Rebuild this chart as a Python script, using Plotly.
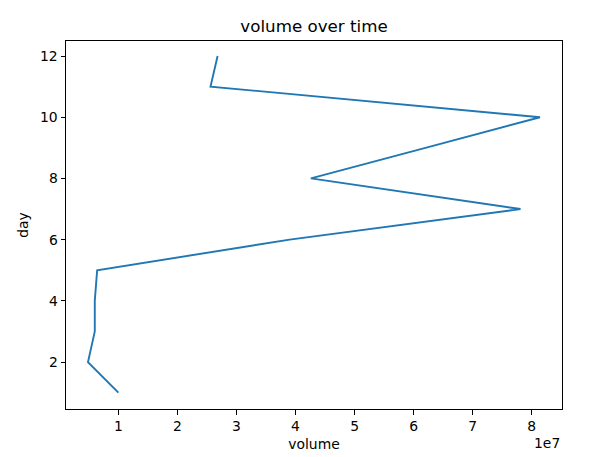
import plotly.graph_objects as go

days = [1, 2, 3, 4, 5, 6, 7, 8, 9, 10, 11, 12]
volume = [1.00e7, 0.485e7, 0.60e7, 0.60e7, 0.64e7, 3.90e7,
          7.81e7, 4.26e7, 6.20e7, 8.14e7, 2.56e7, 2.68e7]

x_ticks = [1e7, 2e7, 3e7, 4e7, 5e7, 6e7, 7e7, 8e7]
x_labels = ["1", "2", "3", "4", "5", "6", "7", "8"]
y_ticks = [2, 4, 6, 8, 10, 12]

fig = go.Figure()
fig.add_trace(go.Scatter(
    x=volume, y=days, mode="lines",
    line=dict(color="#1f77b4", width=1.9),
))

axis_style = dict(
    showline=True, linecolor="black", linewidth=1, mirror=True,
    ticks="outside", ticklen=4.5, tickcolor="black", tickwidth=1,
    showgrid=False, zeroline=False,
    tickfont=dict(size=13.9, color="black"),
)

fig.update_xaxes(
    range=[0.1125e7, 8.513e7], tickvals=x_ticks, ticktext=x_labels,
    title=dict(text="volume", font=dict(size=13.9, color="black"), standoff=6),
    **axis_style,
)
fig.update_yaxes(
    range=[0.467, 12.49], tickvals=y_ticks,
    title=dict(text="day", font=dict(size=13.9, color="black"), standoff=8),
    **axis_style,
)

# page body adds an 8px offset, so margins are shifted to compensate
fig.update_layout(
    width=596, height=457,
    margin=dict(l=58, r=42, t=33, b=56),
    paper_bgcolor="white", plot_bgcolor="white",
    font=dict(family="DejaVu Sans", color="black"),
    showlegend=False,
    title=dict(text="volume over time", x=0.5135, xanchor="center",
               y=1 - 18 / 457, yanchor="middle", font=dict(size=16.7)),
    annotations=[dict(
        text="1e7", xref="paper", yref="paper", x=1, y=-0.065,
        xanchor="right", yanchor="top", showarrow=False,
        font=dict(size=13.9, color="black"),
    )],
)

fig.write_html("out.html")
